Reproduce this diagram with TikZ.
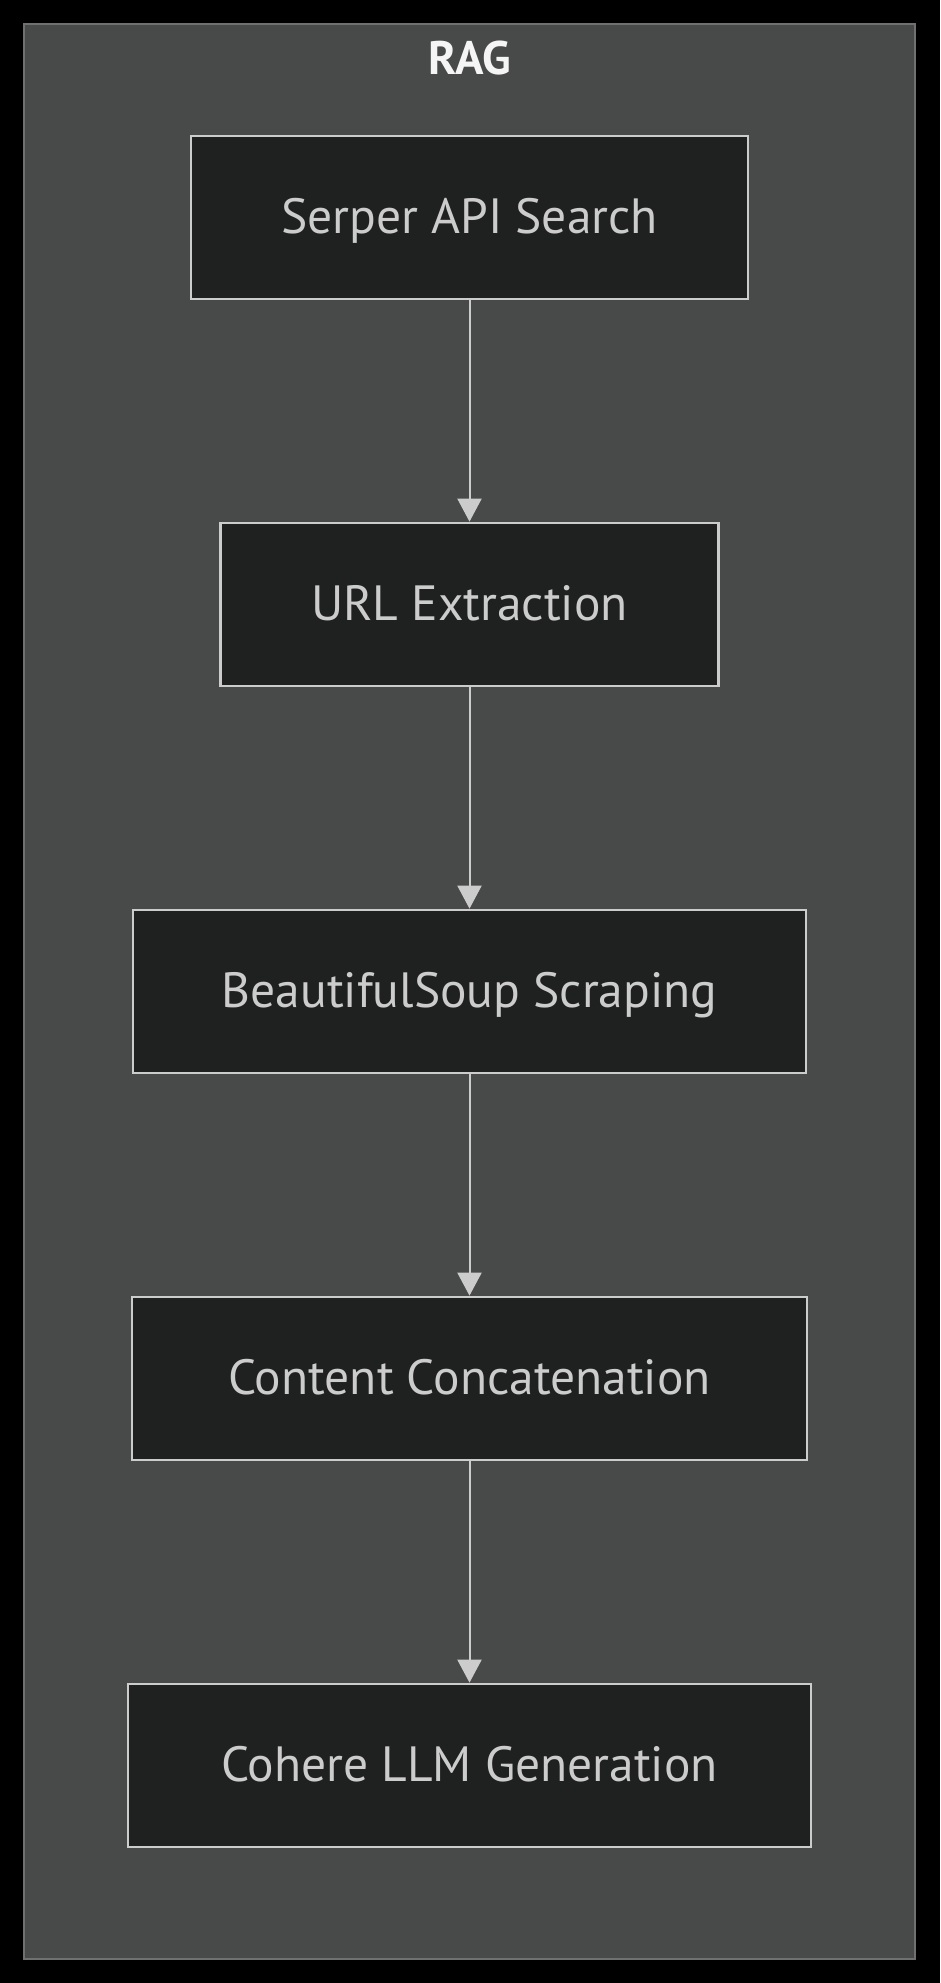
\documentclass[tikz,border=0pt]{standalone}
\usepackage{fontspec}
\setmainfont{PT Sans}
\usetikzlibrary{arrows.meta}
\definecolor{pagebg}{HTML}{000000}
\definecolor{clusterbg}{HTML}{484949}
\definecolor{clusterline}{HTML}{707070}
\definecolor{nodebg}{HTML}{1F2020}
\definecolor{nodeline}{HTML}{CCCCCC}
\definecolor{nodetext}{HTML}{CCCCCC}
\definecolor{titletext}{HTML}{F5F5F5}
\tikzset{
  stepbox/.style={draw=nodeline, fill=nodebg, line width=2.7pt, text=nodetext,
    minimum height=163pt, inner sep=0pt, text depth=4pt,
    font=\fontsize{49.5}{58}\selectfont},
  flow/.style={draw=nodeline, line width=2pt,
    -{Triangle[width=24pt,length=23pt]}},
}
\begin{document}
\begin{tikzpicture}[x=1pt,y=-1pt]
\useasboundingbox (0,0) rectangle (940,1983);
\fill[pagebg] (0,0) rectangle (940,1983);
\draw[clusterline, fill=clusterbg, line width=1.5pt] (24,24) rectangle (915,1959);
\node[text=titletext, inner sep=0pt, text depth=0pt, font=\fontsize{47}{56}\selectfont\bfseries] (title) at (470,58) {RAG};
\node[stepbox, minimum width=557pt] (n1) at (469.5,217.5) {Serper API Search};
\node[stepbox, minimum width=498pt] (n2) at (469.5,604.5) {URL Extraction};
\node[stepbox, minimum width=673pt] (n3) at (469.5,991.5) {BeautifulSoup Scraping};
\node[stepbox, minimum width=675pt] (n4) at (469.5,1378.5) {Content Concatenation};
\node[stepbox, minimum width=683pt] (n5) at (469.5,1765.5) {Cohere LLM Generation};
\draw[flow] (n1) -- (n2);
\draw[flow] (n2) -- (n3);
\draw[flow] (n3) -- (n4);
\draw[flow] (n4) -- (n5);
\end{tikzpicture}
\end{document}
